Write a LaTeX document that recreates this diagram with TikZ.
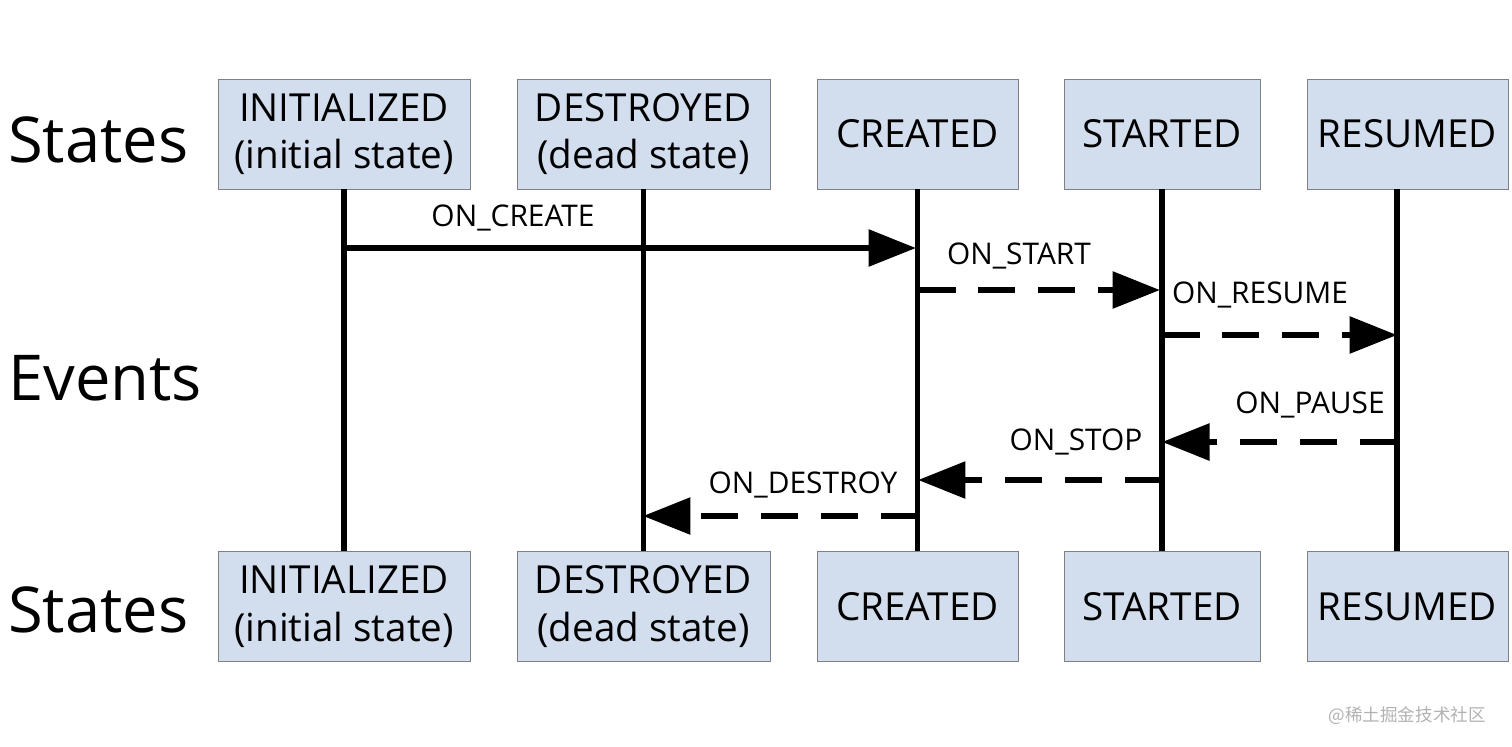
\documentclass[tikz,border=0pt]{standalone}
\usepackage{fontspec}
\setmainfont{Open Sans}
\newfontfamily\cjk{Noto Sans CJK SC}
\usetikzlibrary{arrows.meta}
\definecolor{boxblue}{HTML}{D2DEEE}
\begin{document}
\begin{tikzpicture}[x=0.02cm, y=-0.02cm,
  state/.style={draw=gray, fill=boxblue, minimum height=2.2cm, align=center, font=\fontsize{22}{27}\selectfont, inner sep=0pt},
  life/.style={line width=3.4pt},
  ev/.style={line width=3.4pt, -{Triangle[length=0.95cm, width=0.72cm]}},
  dev/.style={ev, dash pattern=on 0.75cm off 0.45cm},
  lbl/.style={font=\fontsize{17}{20}\selectfont},
  side/.style={anchor=west, font=\fontsize{36}{42}\selectfont}]
\useasboundingbox (0,0) rectangle (1512,747);
% top and bottom rows of states
\node[state, minimum width=5.04cm](ti) at(344,134){INITIALIZED\\(initial state)};
\node[state, minimum width=5.06cm](td) at(643.5,134){DESTROYED\\(dead state)};
\node[state, minimum width=4.02cm](tc) at(917.5,134){CREATED};
\node[state, minimum width=3.92cm](ts) at(1162,134){STARTED};
\node[state, minimum width=4.02cm](tr) at(1407.5,134){RESUMED};
\node[state, minimum width=5.04cm](bi) at(344,606.5){INITIALIZED\\(initial state)};
\node[state, minimum width=5.06cm](bd) at(643.5,606.5){DESTROYED\\(dead state)};
\node[state, minimum width=4.02cm](bc) at(917.5,606.5){CREATED};
\node[state, minimum width=3.92cm](bs) at(1162,606.5){STARTED};
\node[state, minimum width=4.02cm](br) at(1407.5,606.5){RESUMED};
\node[side](s1) at(2,140){States};
\node[side](e1) at(2,378){Events};
\node[side](s2) at(2,610){States};
% lifelines
\coordinate (rt) at(1397,189);
\coordinate (rb) at(1397,551);
\draw[life](ti)--(bi);
\draw[life](td)--(bd);
\draw[life](tc)--(bc);
\draw[life](ts)--(bs);
\draw[life](rt)--(rb);
% event points
\coordinate (c1) at(344,248); \coordinate (c2) at(916,248);
\coordinate (s1a) at(918,290); \coordinate (s1b) at(1160,290);
\coordinate (r1a) at(1162,335); \coordinate (r1b) at(1397,335);
\coordinate (p1a) at(1397,442); \coordinate (p1b) at(1162,442);
\coordinate (o1a) at(1162,480); \coordinate (o1b) at(918,480);
\coordinate (d1a) at(918,516); \coordinate (d1b) at(643,516);
\draw[ev](c1)--(c2);
\draw[dev](s1a)--(s1b);
\draw[dev](r1a)--(r1b);
\draw[dev](p1a)--(p1b);
\draw[dev](o1a)--(o1b);
\draw[dev](d1a)--(d1b);
\node[lbl](l1) at(513,218){ON\_CREATE};
\node[lbl](l2) at(1019,256){ON\_START};
\node[lbl](l3) at(1260,295){ON\_RESUME};
\node[lbl](l4) at(1310,405){ON\_PAUSE};
\node[lbl](l5) at(1076,442){ON\_STOP};
\node[lbl](l6) at(803,485){ON\_DESTROY};
\node[anchor=east, text=gray!60, font=\cjk\fontsize{10}{12}\selectfont](wm) at(1492,716){@稀土掘金技术社区};
\end{tikzpicture}
\end{document}
